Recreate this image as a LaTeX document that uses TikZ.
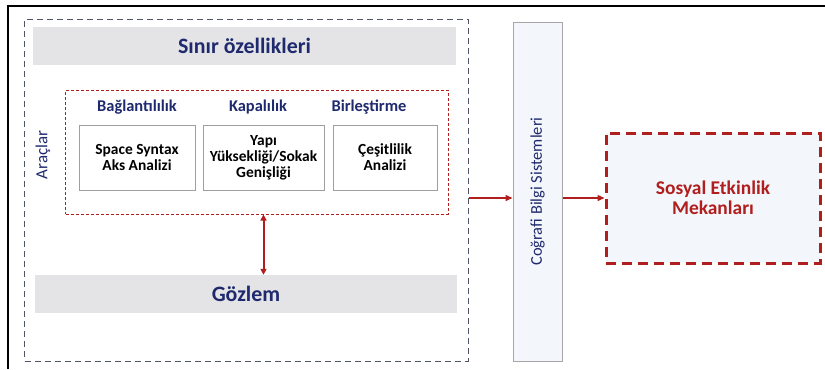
\documentclass[tikz,border=0pt]{standalone}
\usepackage{fontspec}
\setmainfont{Carlito}
\usetikzlibrary{positioning,arrows.meta}

\definecolor{navy}{HTML}{1F2A6E}
\definecolor{deepred}{HTML}{B01E1E}
\definecolor{bandgray}{HTML}{E4E4E6}
\definecolor{framegray}{HTML}{4F5563}
\definecolor{paleblue}{HTML}{F3F6FB}

\begin{document}
\begin{tikzpicture}[x=1bp,y=-1bp,
	band/.style={fill=bandgray, minimum width=422bp, minimum height=38bp, text=navy, font=\bfseries\fontsize{22}{24}\selectfont},
	tool/.style={draw=gray!75, line width=0.7bp, fill=white, minimum height=65bp, align=center, font=\bfseries\fontsize{15.5}{16}\selectfont},
	heading/.style={text=navy, font=\bfseries\fontsize{16.5}{18}\selectfont},
	redarrow/.style={draw=deepred, line width=1.4bp, -{Triangle[length=7bp,width=6bp]}}]
	\useasboundingbox (0,0) rectangle (825,369);
	% page frame
	\draw[line width=2bp] (825,6) -- (8,6) -- (8,369);
	% left block
	\node [draw=framegray, line width=1bp, dash pattern=on 6bp off 4bp, minimum width=443bp, minimum height=342bp] (frame) at (246.5,190) {};
	\node [band] (sinir) at (244.5,46) {Sınır özellikleri};
	\node [draw=deepred, line width=1bp, dash pattern=on 3bp off 2bp, minimum width=382bp, minimum height=124bp] (tools) at (257,152) {};
	\node [heading] (baglanti) at (137,107) {Bağlantılılık};
	\node [heading] (kapali) at (258,107) {Kapalılık};
	\node [heading] (birles) at (369,107) {Birleştirme};
	\node [tool, minimum width=116bp] (space) at (137,157.5) {Space Syntax\\Aks Analizi};
	\node [tool, minimum width=121bp] (yapi) at (263.5,157.5) {Yapı\\Yüksekliği/Sokak\\Genişliği};
	\node [tool, minimum width=104bp] (cesit) at (385,157.5) {Çeşitlilik\\Analizi};
	\node [rotate=90, text=navy, font=\fontsize{17}{18}\selectfont] (araclar) at (43,155) {Araçlar};
	\node [band] (gozlem) at (246,294) {Gözlem};
	% right part
	\node [draw=gray!70, line width=1bp, fill=paleblue, minimum width=49bp, minimum height=339bp] (gis) at (537.5,191.5) {};
	\node [rotate=90, text=navy, font=\fontsize{16.5}{18}\selectfont] (gistext) at (gis.center) {Coğrafi Bilgi Sistemleri};
	\node [draw=deepred, line width=3bp, dash pattern=on 10bp off 6bp, fill=paleblue, minimum width=214bp, minimum height=130bp, align=center, text=deepred, font=\bfseries\fontsize{19.5}{20}\selectfont] (sosyal) at (713,198) {Sosyal Etkinlik\\Mekanları};
	% connectors
	\draw [redarrow, line width=2bp, {Triangle[length=6bp,width=6bp]}-{Triangle[length=6bp,width=6bp]}] (tools.south -| yapi.center) -- (gozlem.north -| yapi.center);
	\draw [redarrow] (frame.east |- sosyal.west) -- (gis.west |- sosyal.west);
	\draw [redarrow] (gis.east |- sosyal.west) -- (sosyal.west);
\end{tikzpicture}
\end{document}
